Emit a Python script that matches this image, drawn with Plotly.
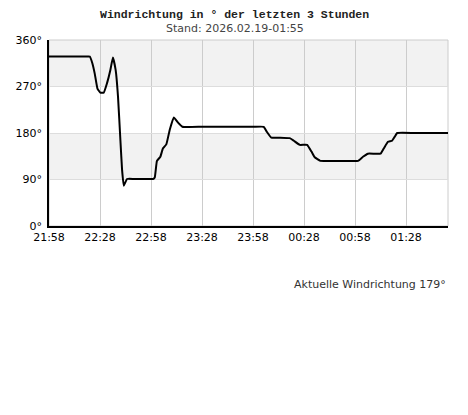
import pandas as pd
import plotly.graph_objects as go

# minutes after 21:58 and wind direction in degrees
minutes = [0, 12, 22, 24, 25.5, 26.9, 28.5, 30.2, 32.2, 34.1, 36.1, 37.6, 39.2, 40.6, 42, 43, 44, 45.9,
           50, 55, 60, 61.2, 62.2, 63.5, 65.5, 67, 69, 71, 73.4, 75.9, 78.5,
           90, 105, 120, 126.3, 128.2, 130.8, 136, 141.6, 144, 147.5, 151.8, 154.4, 156.3, 159.6,
           166, 174, 181.8, 184.7, 187.6, 195, 196.9, 199.4, 201.8, 203.4, 204.8, 215, 225, 234.7]
direction = [328, 328, 328, 328, 315, 295, 266, 258, 258, 276, 302, 326, 302, 250, 166, 108, 78, 91,
             91, 91, 91, 91, 94, 126, 134, 150, 158, 186, 210, 200, 192,
             192, 192, 192, 192, 182, 171, 171, 170, 165, 157, 157, 144, 133, 126,
             126, 126, 126, 134, 140, 140, 150, 163, 165, 173, 180, 180, 180, 180]

start = pd.Timestamp('2026-02-18 21:58')
times = [start + pd.Timedelta(minutes=m) for m in minutes]
tick_times = [start + pd.Timedelta(minutes=30 * i) for i in range(8)]
y_ticks = [0, 90, 180, 270, 360]
y_labels = ['0°', '90°', '180°', '270°', '360°']

fig = go.Figure()
fig.add_trace(go.Scatter(x=times, y=direction, mode='lines',
                         line=dict(color='black', width=2, shape='spline', smoothing=0.35),
                         hoverinfo='skip', showlegend=False))

# grey bands
for y0, y1 in [(90, 180), (270, 360)]:
    fig.add_shape(type='rect', xref='paper', yref='y', x0=0, x1=1, y0=y0, y1=y1,
                  fillcolor='#f2f2f2', line_width=0, layer='below')
fig.add_shape(type='rect', xref='paper', yref='paper', x0=0, x1=1, y0=0, y1=1,
              line=dict(color='#cccccc', width=1), layer='below')

# page body adds an 8px offset, so margins are reduced by that
fig.update_layout(
    width=468, height=415,
    margin=dict(l=41, r=28, t=32, b=197, autoexpand=False),
    plot_bgcolor='rgba(0,0,0,0)', paper_bgcolor='white',
    font=dict(family='DejaVu Sans', size=11, color='black'),
    showlegend=False,
    annotations=[
        dict(text='<b>Windrichtung in ° der letzten 3 Stunden</b>', xref='paper', yref='paper',
             x=0.465, y=1, yshift=26, showarrow=False, xanchor='center', yanchor='middle',
             borderpad=0, font=dict(family='Liberation Mono', size=11.5, color='#222')),
        dict(text='Stand: 2026.02.19-01:55', xref='paper', yref='paper',
             x=0.465, y=1, yshift=12, showarrow=False, xanchor='center', yanchor='middle',
             borderpad=0, font=dict(family='DejaVu Sans', size=11, color='#444')),
        dict(text='Aktuelle Windrichtung 179°', xref='paper', yref='paper',
             x=1, y=0, yshift=-58, showarrow=False, xanchor='right', yanchor='middle',
             font=dict(family='DejaVu Sans', size=11, color='#333')),
    ],
)
fig.update_xaxes(range=[start, start + pd.Timedelta(minutes=234.7)],
                 tickvals=tick_times, tickformat='%H:%M', ticks='',
                 showgrid=True, gridcolor='#cccccc', gridwidth=1,
                 showline=True, linecolor='black', linewidth=1.5,
                 zeroline=False, tickfont=dict(size=11), fixedrange=True, automargin=False)
fig.update_yaxes(range=[0, 360], tickvals=y_ticks, ticktext=y_labels, ticks='',
                 showgrid=True, gridcolor='#dddddd', gridwidth=1,
                 showline=True, linecolor='black', linewidth=1.5, ticklabelstandoff=3,
                 zeroline=False, tickfont=dict(size=11), fixedrange=True, automargin=False)

fig.write_html('out.html')
